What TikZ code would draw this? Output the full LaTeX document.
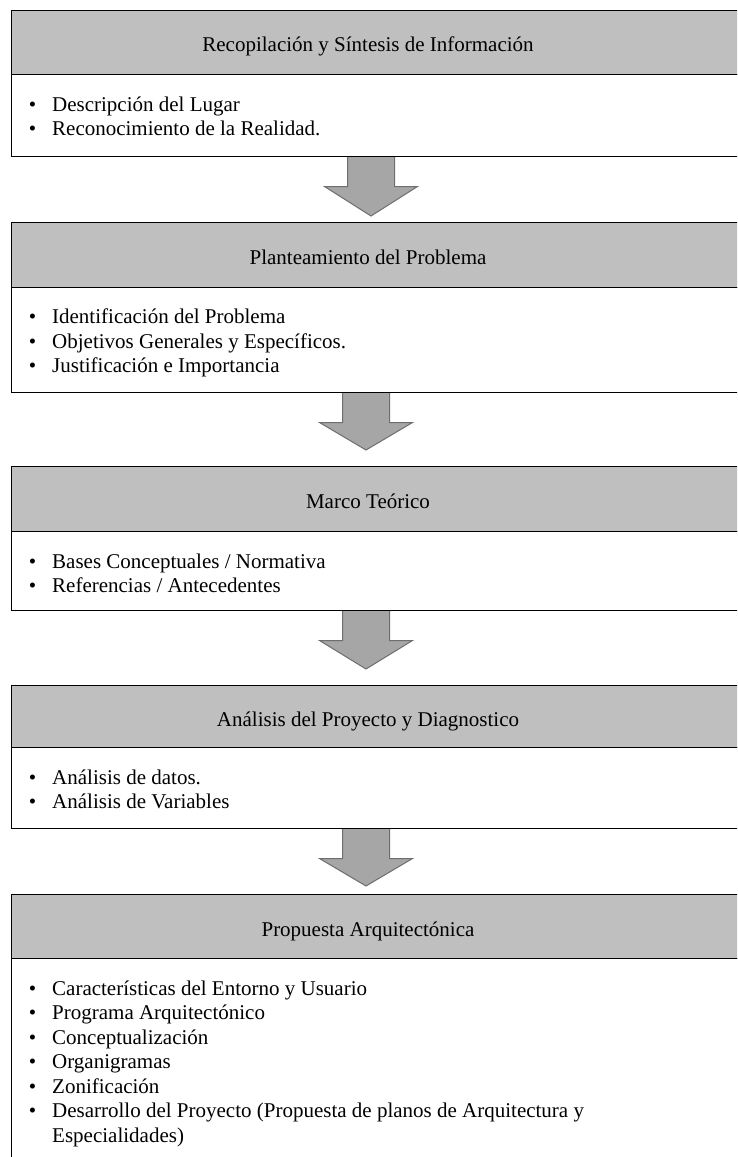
\documentclass[tikz,border=0pt]{standalone}
\usepackage{fontspec}
\setmainfont{Liberation Serif}
\definecolor{hdrgray}{HTML}{BFBFBF}
\definecolor{arrfill}{HTML}{A6A6A6}
\definecolor{arrline}{HTML}{6E6E6E}
\newcommand\blkarrow[4]{% name, cx, ytop, ytip
  \coordinate (#1s) at (#2,#3);
  \coordinate (#1e) at (#2,#4);
  \draw[arrshape] ({#2-23.5},#3) -- ({#2-23.5},{#3+30.5}) -- ({#2-46.5},{#3+30.5}) -- (#1e)
     -- ({#2+46.5},{#3+30.5}) -- ({#2+23.5},{#3+30.5}) -- ({#2+23.5},#3) -- cycle;}
\begin{document}
\begin{tikzpicture}[x=1pt,y=-1pt,
  boxframe/.style={draw=black, line width=1.3pt, anchor=north west, inner sep=0pt, minimum width=780pt},
  hbox/.style={boxframe, fill=hdrgray},
  bbox/.style={boxframe, fill=white},
  htext/.style={anchor=base, inner sep=0pt, font=\fontsize{21}{24.5}\selectfont},
  item/.style={anchor=base west, inner sep=0pt, font=\fontsize{21}{24.5}\selectfont},
  arrshape/.style={fill=arrfill, draw=arrline, line width=1pt, line join=miter}]
\useasboundingbox (0,0) rectangle (737,1157);
\clip (0,0) rectangle (737,1157);
\fill[white] (0,0) rectangle (737,1157);
\newcommand\bul{\makebox[0pt][r]{\textbullet\hspace{16pt}}}
% arrows first
\blkarrow{a1}{371}{156}{216}
\blkarrow{a2}{366}{392}{450}
\blkarrow{a3}{366}{610}{669}
\blkarrow{a4}{366}{828}{886}
% box 1
\node[hbox, minimum height=64pt] (h1) at (11,10) {};
\node[bbox, minimum height=82pt] (b1) at (11,74) {};
\node[htext] (t1) at (368,51.5) {Recopilación y Síntesis de Información};
\node[item] (i11) at (52,111) {\bul Descripción del Lugar};
\node[item] (i12) at (52,135.5) {\bul Reconocimiento de la Realidad.};
% box 2
\node[hbox, minimum height=65pt] (h2) at (11,222) {};
\node[bbox, minimum height=105pt] (b2) at (11,287) {};
\node[htext] (t2) at (368,264.5) {Planteamiento del Problema};
\node[item] (i21) at (52,323.5) {\bul Identificación del Problema};
\node[item] (i22) at (52,348) {\bul Objetivos Generales y Específicos.};
\node[item] (i23) at (52,372.5) {\bul Justificación e Importancia};
% box 3
\node[hbox, minimum height=65pt] (h3) at (11,466) {};
\node[bbox, minimum height=79pt] (b3) at (11,531) {};
\node[htext] (t3) at (368,508.5) {Marco Teórico};
\node[item] (i31) at (52,568) {\bul Bases Conceptuales / Normativa};
\node[item] (i32) at (52,592.5) {\bul Referencias / Antecedentes};
% box 4
\node[hbox, minimum height=62pt] (h4) at (11,685) {};
\node[bbox, minimum height=81pt] (b4) at (11,747) {};
\node[htext] (t4) at (368,726) {Análisis del Proyecto y Diagnostico};
\node[item] (i41) at (52,784) {\bul Análisis de datos.};
\node[item] (i42) at (52,808.5) {\bul Análisis de Variables};
% box 5
\node[hbox, minimum height=64pt] (h5) at (11,894) {};
\node[bbox, minimum height=230pt] (b5) at (11,958) {};
\node[htext] (t5) at (368,936) {Propuesta Arquitectónica};
\node[item] (i51) at (52,995) {\bul Características del Entorno y Usuario};
\node[item] (i52) at (52,1019.5) {\bul Programa Arquitectónico};
\node[item] (i53) at (52,1044) {\bul Conceptualización};
\node[item] (i54) at (52,1068.5) {\bul Organigramas};
\node[item] (i55) at (52,1093) {\bul Zonificación};
\node[item] (i56) at (52,1117.5) {\bul Desarrollo del Proyecto (Propuesta de planos de Arquitectura y};
\node[item] (i57) at (52,1142) {Especialidades)};
\end{tikzpicture}
\end{document}
